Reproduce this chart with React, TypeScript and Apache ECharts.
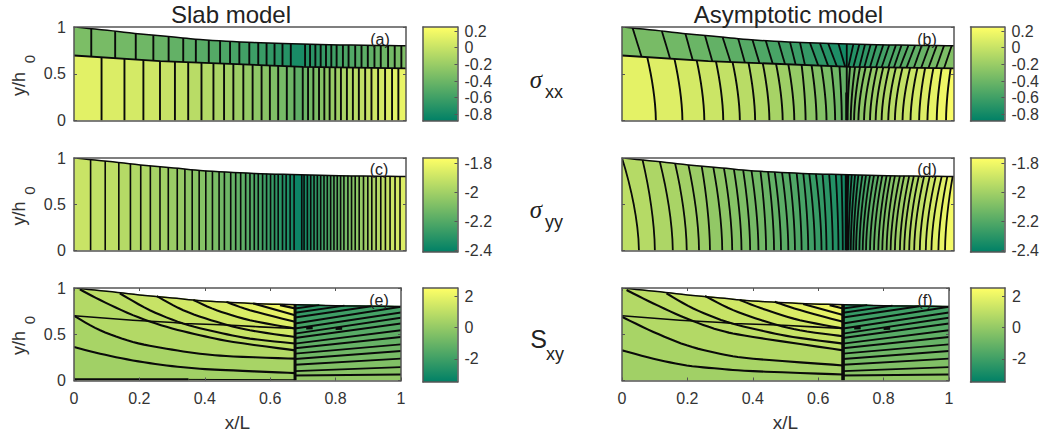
import React, { useEffect, useRef } from "react";
import * as echarts from "echarts";

const FONT = "Liberation Sans";
const INK = "#333";
const FRAME = "#555";

// free surface and layer interface (x/L, y/h0)
const topX = [0, 0.1, 0.2, 0.3, 0.38, 0.5, 0.63, 0.8, 1];
const topY = [1, 0.965, 0.925, 0.893, 0.865, 0.84, 0.823, 0.808, 0.8];
const ifaceX = [0, 0.26, 0.69, 1];
const ifaceY = [0.695, 0.635, 0.574, 0.557];

// colour ranges of the colour bars
const rangeXX = [-0.88, 0.248];
const rangeYY = [-2.41, -1.763];
const rangeXY = [-3.47, 2.51];
const ticksXX = [-0.8, -0.6, -0.4, -0.2, 0, 0.2];
const ticksYY = [-2.4, -2.2, -2, -1.8];
const ticksXY = [-2, 0, 2];

// (a) slab sigma_xx
const aUpperX = [0.052, 0.124, 0.186, 0.239, 0.285, 0.329, 0.367, 0.406, 0.44, 0.47, 0.498, 0.528, 0.555, 0.58, 0.604, 0.628, 0.653, 0.696, 0.711, 0.727, 0.743, 0.759, 0.775, 0.791, 0.81, 0.827, 0.847, 0.866, 0.885, 0.905, 0.924, 0.946, 0.966, 0.986];
const aUpperV = [-0.33, -0.35, -0.37, -0.39, -0.42, -0.44, -0.47, -0.49, -0.51, -0.54, -0.56, -0.59, -0.61, -0.63, -0.66, -0.68, -0.71, -0.77, -0.72, -0.695, -0.67, -0.645, -0.62, -0.595, -0.57, -0.545, -0.52, -0.5, -0.47, -0.45, -0.42, -0.4, -0.37, -0.35, -0.32];
const aLowerX = [0.083, 0.152, 0.209, 0.259, 0.304, 0.344, 0.384, 0.42, 0.452, 0.48, 0.51, 0.538, 0.565, 0.59, 0.615, 0.641, 0.664, 0.689, 0.705, 0.721, 0.738, 0.754, 0.77, 0.787, 0.804, 0.822, 0.84, 0.858, 0.877, 0.896, 0.916, 0.937, 0.958, 0.977];
const aLowerV = [0.12, 0.09, 0.06, 0.03, 0, -0.03, -0.06, -0.09, -0.12, -0.15, -0.18, -0.22, -0.25, -0.28, -0.32, -0.36, -0.4, -0.46, -0.41, -0.37, -0.33, -0.29, -0.25, -0.21, -0.17, -0.13, -0.1, -0.06, -0.03, 0, 0.03, 0.06, 0.09, 0.12, 0.15];

// (b) asymptotic sigma_xx
const bUpperBottom = [0.059, 0.145, 0.213, 0.272, 0.327, 0.37, 0.414, 0.454, 0.491, 0.523, 0.551, 0.591, 0.621, 0.647, 0.672, 0.677, 0.682, 0.697, 0.715, 0.73, 0.747, 0.765, 0.782, 0.802, 0.819, 0.837, 0.857, 0.879, 0.901, 0.923, 0.946, 0.97];
const bUpperTop = [0.032, 0.12, 0.191, 0.25, 0.303, 0.35, 0.393, 0.433, 0.471, 0.506, 0.536, 0.566, 0.596, 0.621, 0.652, 0.677, 0.697, 0.715, 0.732, 0.749, 0.767, 0.787, 0.805, 0.825, 0.842, 0.863, 0.883, 0.903, 0.926, 0.948, 0.97, 0.993];
const bUpperV = [-0.33, -0.35, -0.38, -0.41, -0.44, -0.47, -0.5, -0.53, -0.56, -0.59, -0.62, -0.65, -0.68, -0.71, -0.75, -0.79, -0.74, -0.72, -0.7, -0.67, -0.64, -0.62, -0.59, -0.56, -0.53, -0.5, -0.48, -0.45, -0.42, -0.39, -0.36, -0.33, -0.3];
const bLowerBottom = [0.102, 0.182, 0.248, 0.305, 0.355, 0.401, 0.444, 0.484, 0.519, 0.553, 0.586, 0.616, 0.642, 0.662, 0.677, 0.679, 0.689, 0.699, 0.712, 0.729, 0.747, 0.764, 0.782, 0.802, 0.822, 0.845, 0.869, 0.895, 0.92, 0.948, 0.976];
const bLowerTop = [0.076, 0.158, 0.225, 0.283, 0.333, 0.381, 0.424, 0.464, 0.501, 0.541, 0.571, 0.6, 0.63, 0.655, 0.677, 0.687, 0.702, 0.717, 0.734, 0.752, 0.769, 0.787, 0.805, 0.825, 0.845, 0.868, 0.89, 0.913, 0.938, 0.963, 0.99];
const bLowerV = [0.13, 0.1, 0.06, 0.02, -0.02, -0.06, -0.1, -0.14, -0.18, -0.22, -0.26, -0.3, -0.34, -0.39, -0.44, -0.42, -0.38, -0.34, -0.3, -0.26, -0.22, -0.18, -0.14, -0.1, -0.06, -0.02, 0.02, 0.06, 0.1, 0.14, 0.18, 0.22];

// (c) slab sigma_yy
const cX = [0.05, 0.094, 0.135, 0.17, 0.201, 0.23, 0.259, 0.284, 0.311, 0.334, 0.356, 0.377, 0.397, 0.417, 0.437, 0.453, 0.472, 0.487, 0.502, 0.517, 0.53, 0.543, 0.555, 0.568, 0.58, 0.592, 0.604, 0.615, 0.628, 0.639, 0.651, 0.663, 0.686, 0.693, 0.703, 0.713, 0.723, 0.733, 0.743, 0.753, 0.763, 0.773, 0.783, 0.793, 0.803, 0.813, 0.825, 0.836, 0.847, 0.859, 0.872, 0.885, 0.897, 0.91, 0.924, 0.938, 0.952, 0.967, 0.982];
const cV = [-1.9, -1.92, -1.93, -1.95, -1.96, -1.97, -1.99, -2, -2.02, -2.03, -2.05, -2.06, -2.07, -2.09, -2.1, -2.12, -2.13, -2.15, -2.16, -2.17, -2.19, -2.2, -2.22, -2.23, -2.25, -2.26, -2.27, -2.29, -2.3, -2.32, -2.33, -2.35, -2.38, -2.37, -2.35, -2.33, -2.31, -2.29, -2.27, -2.25, -2.23, -2.21, -2.19, -2.17, -2.15, -2.13, -2.11, -2.09, -2.07, -2.05, -2.03, -2.01, -1.99, -1.97, -1.95, -1.93, -1.91, -1.89, -1.87, -1.85];

// (d) asymptotic sigma_yy
const dBottom = [0.051, 0.099, 0.153, 0.195, 0.232, 0.265, 0.302, 0.332, 0.36, 0.386, 0.411, 0.434, 0.458, 0.479, 0.501, 0.521, 0.541, 0.561, 0.581, 0.601, 0.616, 0.635, 0.652, 0.665, 0.676, 0.677, 0.682, 0.689, 0.697, 0.705, 0.715, 0.725, 0.735, 0.747, 0.759, 0.772, 0.784, 0.797, 0.809, 0.822, 0.837, 0.85, 0.865, 0.88, 0.897, 0.915, 0.932, 0.953, 0.973];
const dTop = [0, 0.062, 0.114, 0.16, 0.2, 0.24, 0.275, 0.307, 0.337, 0.365, 0.39, 0.417, 0.44, 0.46, 0.482, 0.504, 0.526, 0.546, 0.564, 0.584, 0.604, 0.624, 0.644, 0.661, 0.676, 0.682, 0.692, 0.702, 0.712, 0.724, 0.735, 0.747, 0.759, 0.772, 0.784, 0.797, 0.809, 0.822, 0.837, 0.85, 0.865, 0.879, 0.894, 0.91, 0.927, 0.945, 0.963, 0.98, 0.996];
const dV = [-1.93, -1.95, -1.97, -1.98, -2, -2.02, -2.04, -2.05, -2.07, -2.09, -2.11, -2.12, -2.14, -2.16, -2.18, -2.19, -2.21, -2.23, -2.25, -2.27, -2.28, -2.3, -2.32, -2.34, -2.36, -2.37, -2.34, -2.32, -2.3, -2.27, -2.25, -2.23, -2.2, -2.18, -2.16, -2.13, -2.11, -2.08, -2.06, -2.04, -2.01, -1.99, -1.96, -1.94, -1.92, -1.89, -1.87, -1.84, -1.82, -1.79];

// (e) slab S_xy: curves left of the wall, bottom to top
const wallX = 0.676;
const eBaselineBold = [[0, 0.012], [0.35, 0.012]];
const eBaselineThin = [[0.35, 0.012], [0.676, 0.008]];
const eLeft = [
  [[0, 0.362], [0.08, 0.29], [0.18, 0.217], [0.283, 0.163], [0.385, 0.127], [0.487, 0.109], [0.676, 0.08]],
  [[0, 0.7], [0.08, 0.543], [0.18, 0.417], [0.283, 0.344], [0.385, 0.29], [0.487, 0.26], [0.676, 0.236]],
  [[0.018, 0.985], [0.08, 0.87], [0.18, 0.707], [0.283, 0.58], [0.385, 0.49], [0.487, 0.417], [0.676, 0.326]],
  [[0.14, 0.942], [0.232, 0.76], [0.334, 0.616], [0.436, 0.525], [0.538, 0.453], [0.676, 0.4]],
  [[0.253, 0.913], [0.334, 0.76], [0.436, 0.634], [0.538, 0.543], [0.676, 0.47]],
  [[0.365, 0.87], [0.436, 0.76], [0.538, 0.652], [0.676, 0.562]],
  [[0.466, 0.85], [0.538, 0.76], [0.676, 0.634]],
  [[0.548, 0.833], [0.676, 0.706]],
  [[0.63, 0.815], [0.676, 0.78]],
];
const eKink = [[0, 0.7], [0.18, 0.652], [0.303, 0.627], [0.334, 0.616], [0.426, 0.605], [0.482, 0.598], [0.568, 0.58], [0.676, 0.562]];
const xyLeftV = [0.3, 0.48, 0.72, 0.96, 1.2, 1.43, 1.67, 1.9, 2.1, 2.27];

// (f) asymptotic S_xy
const fLeft = [
  [[0, 0.326], [0.096, 0.236], [0.198, 0.163], [0.299, 0.127], [0.401, 0.101], [0.676, 0.065]],
  [[0, 0.688], [0.096, 0.525], [0.198, 0.38], [0.299, 0.29], [0.401, 0.236], [0.676, 0.163]],
  [[0.014, 0.978], [0.096, 0.833], [0.198, 0.67], [0.299, 0.543], [0.401, 0.471], [0.676, 0.326]],
  [[0.136, 0.942], [0.218, 0.779], [0.32, 0.634], [0.422, 0.543], [0.523, 0.471], [0.676, 0.399]],
  [[0.254, 0.913], [0.34, 0.761], [0.442, 0.634], [0.544, 0.543], [0.676, 0.478]],
  [[0.36, 0.87], [0.442, 0.761], [0.544, 0.652], [0.676, 0.562]],
  [[0.467, 0.851], [0.544, 0.761], [0.676, 0.634]],
  [[0.554, 0.826], [0.676, 0.707]],
  [[0.635, 0.815], [0.676, 0.779]],
];
const fKink = [[0, 0.7], [0.177, 0.652], [0.304, 0.627], [0.34, 0.616], [0.432, 0.605], [0.493, 0.598], [0.584, 0.58], [0.676, 0.562]];

// S_xy curves right of the wall, bottom to top (shared by e and f)
const xyRight = [
  [[0.676, 0.054], [1, 0.065]],
  [[0.676, 0.101], [1, 0.145]],
  [[0.676, 0.17], [1, 0.236]],
  [[0.676, 0.232], [1, 0.319]],
  [[0.676, 0.29], [1, 0.391]],
  [[0.676, 0.348], [1, 0.471]],
  [[0.676, 0.399], [1, 0.543]],
  [[0.676, 0.46], [1, 0.616]],
  [[0.676, 0.507], [1, 0.678]],
  [[0.676, 0.562], [1, 0.736]],
  [[0.676, 0.616], [1, 0.797]],
  [[0.676, 0.681], [0.909, 0.803]],
  [[0.676, 0.732], [0.827, 0.809]],
  [[0.676, 0.779], [0.75, 0.815]],
];
const xyRightV = [-0.05, -0.25, -0.45, -0.65, -0.85, -1.05, -1.2, -1.4, -1.55, -1.7, -1.85, -2, -2.2, -2.35, -2.5];
const xyDashes = [[[0.71, 0.565], [0.73, 0.567]], [[0.8, 0.56], [0.82, 0.563]]];

const summer = (t: number) => {
  const c = Math.max(0, Math.min(1, t));
  return `rgb(${Math.round(255 * c)},${Math.round(127.5 * (1 + c))},102)`;
};
const lookup = (xs: number[], ys: number[]) => (x: number) => {
  for (let i = 1; i < xs.length; i++) {
    if (x <= xs[i]) return ys[i - 1] + ((ys[i] - ys[i - 1]) * (x - xs[i - 1])) / (xs[i] - xs[i - 1]);
  }
  return ys[ys.length - 1];
};
const top = lookup(topX, topY);
const iface = lookup(ifaceX, ifaceY);
const floor = () => 0;

// draws a read-off curve as a smooth stroke rather than straight chords
function spline(c: number[][]) {
  if (c.length < 3) return c;
  const out: number[][] = [];
  for (let i = 0; i < c.length - 1; i++) {
    const p0 = c[Math.max(i - 1, 0)];
    const p1 = c[i];
    const p2 = c[i + 1];
    const p3 = c[Math.min(i + 2, c.length - 1)];
    for (let k = 0; k < 6; k++) {
      const t = k / 6;
      const f = (a: number, b: number, d: number, e: number) =>
        0.5 * (2 * b + (d - a) * t + (2 * a - 5 * b + 4 * d - e) * t * t + (3 * b - a - 3 * d + e) * t * t * t);
      out.push([f(p0[0], p1[0], p2[0], p3[0]), f(p0[1], p1[1], p2[1], p3[1])]);
    }
  }
  out.push(c[c.length - 1]);
  return out;
}

type Shape = { pts: number[][]; color?: string; w?: number };

// a layer cut by near-vertical contours, bottom-to-top x given per contour
function layer(out: Shape[], lines: Shape[], lo: (x: number) => number, hi: (x: number) => number, bottom: number[], upper: number[], vals: number[], range: number[], power: number, w: number) {
  const trace = (xb: number, xt: number) => {
    const steps = xb === xt ? 1 : 8;
    const yb = lo(xb);
    const yt = hi(xt);
    const pts: number[][] = [];
    for (let k = 0; k <= steps; k++) {
      const s = k / steps;
      pts.push([xb + (xt - xb) * Math.pow(s, power), yb + (yt - yb) * s]);
    }
    return pts;
  };
  const bs = [0, ...bottom, 1];
  const ts = [0, ...upper, 1];
  for (let i = 0; i < bs.length - 1; i++) {
    const a = trace(bs[i], ts[i]);
    const b = trace(bs[i + 1], ts[i + 1]);
    out.push({ pts: [...a, ...b.reverse()], color: summer((vals[i] - range[0]) / (range[1] - range[0])) });
  }
  bottom.forEach((xb, i) => lines.push({ pts: trace(xb, upper[i]), w }));
}

const profile = (a: number, b: number) => topX.filter((x) => x > a && x < b).map((x) => [x, top(x)]).reverse();

function xyPanel(out: Shape[], lines: Shape[], left: number[][][], kink: number[][], wall: number) {
  const col = (v: number) => summer((v - rangeXY[0]) / (rangeXY[1] - rangeXY[0]));
  out.push({ pts: [[0, 0], [wallX, 0], [wallX, top(wallX)], ...profile(0, wallX), [0, 1]], color: col(xyLeftV[0]) });
  left.forEach((raw, i) => {
    const c = spline(raw);
    const x0 = c[0][0];
    const tail = x0 === 0 ? [[0, 1]] : [];
    out.push({ pts: [...c, [wallX, top(wallX)], ...profile(x0, wallX), ...tail], color: col(xyLeftV[i + 1]) });
    lines.push({ pts: c, w: 2.1 });
  });
  out.push({ pts: [[wallX, 0], [1, 0], [1, top(1)], ...profile(wallX, 1), [wallX, top(wallX)]], color: col(xyRightV[0]) });
  xyRight.forEach((c, i) => {
    const xe = c[c.length - 1][0];
    const head = xe === 1 ? [[1, top(1)]] : [];
    out.push({ pts: [...c, ...head, ...profile(wallX, xe), [wallX, top(wallX)]], color: col(xyRightV[i + 1]) });
    lines.push({ pts: c, w: 1.9 });
  });
  lines.push({ pts: kink, w: 1.6 });
  xyDashes.forEach((d) => lines.push({ pts: d, w: 2.6 }));
  lines.push({ pts: [[wallX, 0], [wallX, top(wallX)]], w: wall });
}

const surfaceLine = (): Shape => ({ pts: spline(topX.map((x, i) => [x, topY[i]])), w: 1.5 });
const ifaceLine = (): Shape => ({ pts: ifaceX.map((x, i) => [x, ifaceY[i]]), w: 1.8 });

function panelShapes(key: string): Shape[] {
  const fills: Shape[] = [];
  const lines: Shape[] = [];
  if (key === "a") {
    layer(fills, lines, floor, iface, aLowerX, aLowerX, aLowerV, rangeXX, 1, 1.9);
    layer(fills, lines, iface, top, aUpperX, aUpperX, aUpperV, rangeXX, 1, 1.9);
    lines.push(surfaceLine(), ifaceLine());
  } else if (key === "b") {
    layer(fills, lines, floor, iface, bLowerBottom, bLowerTop, bLowerV, rangeXX, 1.7, 1.9);
    layer(fills, lines, iface, top, bUpperBottom, bUpperTop, bUpperV, rangeXX, 1, 1.8);
    lines.push(surfaceLine(), ifaceLine());
    lines.push({ pts: [[0.677, 0], [0.677, 0.3]], w: 3 });
  } else if (key === "c") {
    layer(fills, lines, floor, top, cX, cX, cV, rangeYY, 1, 1.6);
    lines.push(surfaceLine());
  } else if (key === "d") {
    layer(fills, lines, floor, top, dBottom, dTop, dV, rangeYY, 1.7, 1.8);
    lines.push(surfaceLine());
    lines.push({ pts: [[0.676, 0], [0.676, top(0.676)]], w: 3.2 });
  } else if (key === "e") {
    xyPanel(fills, lines, eLeft, eKink, 3);
    lines.push({ pts: eBaselineBold, w: 2.2 }, { pts: eBaselineThin, w: 1 });
    lines.push(surfaceLine());
  } else {
    xyPanel(fills, lines, fLeft, fKink, 3.6);
    lines.push(surfaceLine());
  }
  return [...fills, ...lines];
}

const panels = [
  { key: "a", label: "(a)", left: 74, top: 27, width: 332, height: 93.5, range: rangeXX, ticks: ticksXX, bar: 423, barTop: 27, barH: 94, showY: true, showX: false, labelX: 380, labelY: 39 },
  { key: "b", label: "(b)", left: 622, top: 27, width: 332, height: 93.5, range: rangeXX, ticks: ticksXX, bar: 970.5, barTop: 27, barH: 94, showY: false, showX: false, labelX: 927, labelY: 39 },
  { key: "c", label: "(c)", left: 74, top: 158, width: 332, height: 92.5, range: rangeYY, ticks: ticksYY, bar: 423, barTop: 158, barH: 94, showY: true, showX: false, labelX: 379, labelY: 169 },
  { key: "d", label: "(d)", left: 622, top: 158, width: 332, height: 92.5, range: rangeYY, ticks: ticksYY, bar: 970.5, barTop: 158, barH: 94, showY: false, showX: false, labelX: 927, labelY: 169 },
  { key: "e", label: "(e)", left: 74, top: 288, width: 327, height: 92.5, range: rangeXY, ticks: ticksXY, bar: 423, barTop: 288, barH: 94, showY: true, showX: true, labelX: 379, labelY: 300 },
  { key: "f", label: "(f)", left: 622, top: 288, width: 327, height: 92.5, range: rangeXY, ticks: ticksXY, bar: 970.5, barTop: 288, barH: 94, showY: false, showX: true, labelX: 925, labelY: 300 },
];

const tick = { inside: true, length: 3, lineStyle: { color: FRAME, width: 1 } };
const frameLine = { show: true, onZero: false, lineStyle: { color: FRAME, width: 1.5 } };
const labelStyle = { fontFamily: FONT, fontSize: 16, color: INK };

function buildOption() {
  const grid: any[] = [];
  const xAxis: any[] = [];
  const yAxis: any[] = [];
  const series: any[] = [];
  const graphic: any[] = [];

  const text = (t: string, x: number, y: number, size: number, extra: any = {}, family = FONT) => {
    graphic.push({
      type: "text", x, y, z: 100, silent: true, rotation: extra.rotation || 0,
      style: { text: t, fontFamily: family, fontSize: size, fontStyle: extra.italic ? "italic" : "normal", fill: extra.fill || "#222", align: "center", verticalAlign: "middle" },
    });
  };

  panels.forEach((p) => {
    const g = grid.length;
    grid.push({ left: p.left, top: p.top, width: p.width, height: p.height, containLabel: false });
    const xi = xAxis.length;
    xAxis.push({
      gridIndex: g, type: "value", position: "bottom", min: 0, max: 1, interval: 0.2, z: 10, splitLine: { show: false },
      axisLine: frameLine, axisTick: { ...tick, show: p.showX },
      axisLabel: { show: p.showX, margin: 10, ...labelStyle, hideOverlap: false },
      name: p.showX ? "x/L" : "", nameLocation: "middle", nameGap: 32, nameTextStyle: { fontFamily: FONT, fontSize: 19, color: INK },
    });
    xAxis.push({ gridIndex: g, type: "value", position: "top", min: 0, max: 1, interval: 0.2, z: 10, splitLine: { show: false }, axisLine: frameLine, axisTick: { ...tick, show: p.showX }, axisLabel: { show: false } });
    const yi = yAxis.length;
    yAxis.push({
      gridIndex: g, type: "value", position: "left", min: 0, max: 1, interval: 0.5, z: 10, splitLine: { show: false },
      axisLine: frameLine, axisTick: tick, axisLabel: { show: p.showY, margin: 8, ...labelStyle },
    });
    yAxis.push({ gridIndex: g, type: "value", position: "right", min: 0, max: 1, interval: 0.5, z: 10, splitLine: { show: false }, axisLine: frameLine, axisTick: tick, axisLabel: { show: false } });

    const shapes = panelShapes(p.key);
    series.push({
      type: "custom", xAxisIndex: xi, yAxisIndex: yi, clip: true, silent: true, z: 2,
      data: shapes.map(() => [0, 0]),
      renderItem: (params: any, api: any) => {
        const s = shapes[params.dataIndex];
        const points = s.pts.map((q) => api.coord(q));
        if (s.color) return { type: "polygon", z2: params.dataIndex, shape: { points }, style: { fill: s.color, stroke: s.color, lineWidth: 0.4 } };
        return { type: "polyline", z2: params.dataIndex, shape: { points }, style: { fill: null, stroke: "#0a0a0a", lineWidth: s.w } };
      },
    });

    // colour bar
    const b = grid.length;
    grid.push({ left: p.bar, top: p.barTop, width: 34.5, height: p.barH, containLabel: false });
    const bx = xAxis.length;
    xAxis.push({ gridIndex: b, type: "value", position: "bottom", min: 0, max: 1, z: 10, splitLine: { show: false }, axisLine: frameLine, axisTick: { show: false }, axisLabel: { show: false } });
    xAxis.push({ gridIndex: b, type: "value", position: "top", min: 0, max: 1, z: 10, splitLine: { show: false }, axisLine: frameLine, axisTick: { show: false }, axisLabel: { show: false } });
    const by = yAxis.length;
    yAxis.push({
      gridIndex: b, type: "value", position: "right", min: p.range[0], max: p.range[1], z: 10, splitLine: { show: false },
      axisLine: frameLine, axisTick: { ...tick, customValues: p.ticks },
      axisLabel: { margin: 7, ...labelStyle, customValues: p.ticks },
    });
    yAxis.push({ gridIndex: b, type: "value", position: "left", min: p.range[0], max: p.range[1], z: 10, splitLine: { show: false }, axisLine: frameLine, axisTick: { show: false }, axisLabel: { show: false } });
    const lo = p.range[0];
    const hi = p.range[1];
    series.push({
      type: "custom", xAxisIndex: bx, yAxisIndex: by, silent: true, z: 2, data: [[0, lo, 1, hi]],
      renderItem: (_: any, api: any) => {
        const a = api.coord([0, hi]);
        const c = api.coord([1, lo]);
        return {
          type: "rect", shape: { x: a[0], y: a[1], width: c[0] - a[0], height: c[1] - a[1] },
          style: { fill: new echarts.graphic.LinearGradient(0, 0, 0, 1, [{ offset: 0, color: summer(1) }, { offset: 1, color: summer(0) }]) },
        };
      },
    });

    text(p.label, p.labelX, p.labelY, 16);
  });

  text("Slab model", 231, 14, 24);
  text("Asymptotic model", 788.5, 14, 24);

  const r = Math.PI / 2;
  [[84, 59], [213.5, 190.5], [343, 320]].forEach(([yh, zero]) => {
    text("y/h", 19, yh, 18, { rotation: r, fill: INK });
    text("0", 29, zero, 15, { rotation: r, fill: INK });
  });

  text("σ", 536, 79, 25, { italic: true }, "Liberation Serif");
  text("xx", 554, 92, 18);
  text("σ", 536, 209, 25, { italic: true }, "Liberation Serif");
  text("yy", 554, 222, 18);
  text("S", 538.5, 339, 25);
  text("xy", 555, 354, 18);

  return { animation: false, backgroundColor: "#fff", grid, xAxis, yAxis, series, graphic };
}

export default function App() {
  const ref = useRef<HTMLDivElement>(null);
  useEffect(() => {
    const chart = echarts.init(ref.current as HTMLDivElement, undefined, { renderer: "svg" });
    chart.setOption(buildOption() as any);
    return () => chart.dispose();
  }, []);
  return <div ref={ref} style={{ position: "fixed", left: 0, top: 0, width: 1042, height: 436 }} />;
}
